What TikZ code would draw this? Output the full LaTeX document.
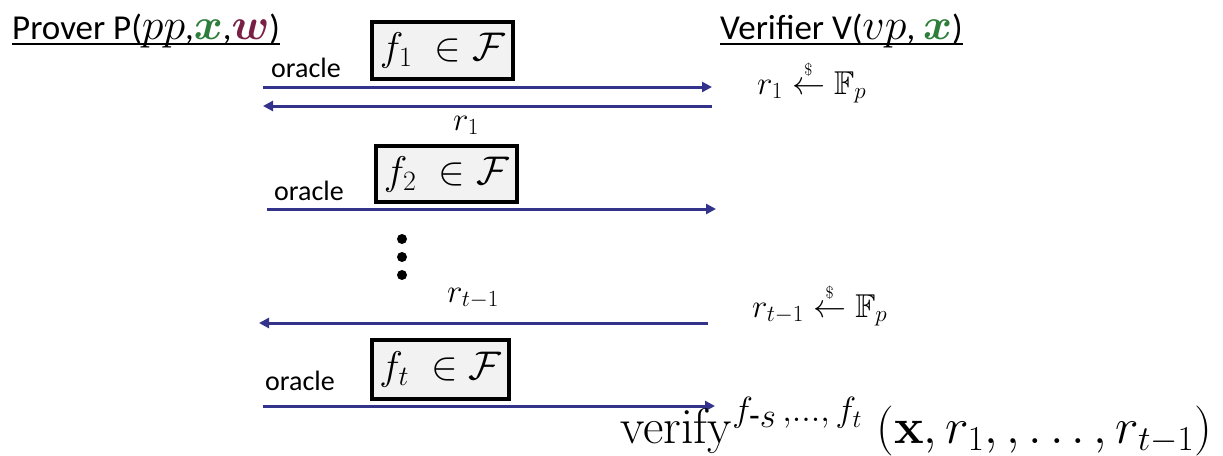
\documentclass[tikz,border=0pt]{standalone}
\usepackage{fix-cm}
\usepackage{amsmath,amssymb,bm,graphicx}
\usepackage[no-math]{fontspec}
\setmainfont{Carlito}
\usetikzlibrary{arrows.meta}
\definecolor{arrowblue}{HTML}{33338C}
\definecolor{xgreen}{HTML}{2E7D3A}
\definecolor{wred}{HTML}{7A1F45}
\definecolor{boxfill}{HTML}{F2F2F2}
\newcommand{\headmath}[1]{{\fontsize{44}{44}\selectfont$#1$}}
\newcommand{\sampled}{\mathrel{\overset{\scriptscriptstyle\$}{\leftarrow}}}
\begin{document}
\begin{tikzpicture}[x=1pt,y=-1pt,
  fbox/.style={draw=black,line width=3.5pt,fill=boxfill,minimum height=57pt,inner sep=0pt,font=\fontsize{40}{46}\selectfont},
  head/.style={inner sep=0pt,anchor=base west,font=\fontsize{35}{40}\selectfont},
  uline/.style={line width=2pt},
  orc/.style={inner sep=0pt,anchor=base west,font=\fontsize{28}{32}\selectfont},
  lbl/.style={inner sep=0pt,anchor=base west,font=\fontsize{33}{38}\selectfont},
  msg/.style={draw=arrowblue,line width=3pt,-{Triangle[length=10pt,width=10pt]}},
  dot/.style={circle,fill=black,inner sep=0pt,minimum size=10pt}]
\useasboundingbox (0,0) rectangle (1223,455);
% headers
\node[head] (prover) at (12,39) {Prover P(\headmath{pp},\headmath{\color{xgreen}\bm{x}},\headmath{\color{wred}\bm{w}})};
\draw[uline] ([yshift=-4.5pt]prover.base west) -- ([yshift=-4.5pt]prover.base east);
\node[head] (verifier) at (720,39) {Verifier V(\headmath{vp}, \headmath{\color{xgreen}\bm{x}})};
\draw[uline] ([yshift=-4.5pt]verifier.base west) -- ([yshift=-4.5pt]verifier.base east);
% round 1
\node[fbox,minimum width=141pt] (b1) at (442.5,50.5) {$f_1 \;\in \mathcal{F}$};
\node[orc] (o1) at (271,77) {oracle};
\coordinate (a1s) at (263,87);
\coordinate (a1e) at (712,87);
\draw[msg] (a1s) -- (a1e);
\coordinate (a2s) at (712,106);
\coordinate (a2e) at (263,106);
\draw[msg] (a2s) -- (a2e);
\node[lbl] (r1) at (453,130) {$r_1$};
\node[lbl] (s1) at (757,94) {$r_1 \sampled \mathbb{F}_p$};
% round 2
\node[fbox,minimum width=141pt,minimum height=56pt] (b2) at (446.5,174) {$f_2 \;\in \mathcal{F}$};
\node[orc] (o2) at (274,200) {oracle};
\coordinate (a3s) at (267,209);
\coordinate (a3e) at (716,209);
\draw[msg] (a3s) -- (a3e);
% dots
\node[dot] (d1) at (402,239) {};
\node[dot] (d2) at (402,257) {};
\node[dot] (d3) at (402,275) {};
% round t-1
\node[lbl] (rt) at (447,302) {$r_{t-1}$};
\coordinate (a4s) at (708,323);
\coordinate (a4e) at (259,323);
\draw[msg] (a4s) -- (a4e);
\node[lbl] (st) at (752,317) {$r_{t-1} \sampled \mathbb{F}_p$};
% round t
\node[fbox,minimum width=137pt,minimum height=59pt] (b3) at (440.5,369.5) {$f_t \;\in \mathcal{F}$};
\node[orc] (o3) at (265,390) {oracle};
\coordinate (a5s) at (263,406);
\coordinate (a5e) at (715,406);
\draw[msg] (a5s) -- (a5e);
% verify
\node[inner sep=0pt,anchor=base west,font=\fontsize{50}{56}\selectfont] (ver) at (620,443) {$\mathrm{verify}^{f_{\scriptstyle\text{-}s}\,,\ldots,\,f_t}\;(\mathbf{x},r_1,,\ldots,r_{t-1})$};
\end{tikzpicture}
\end{document}
